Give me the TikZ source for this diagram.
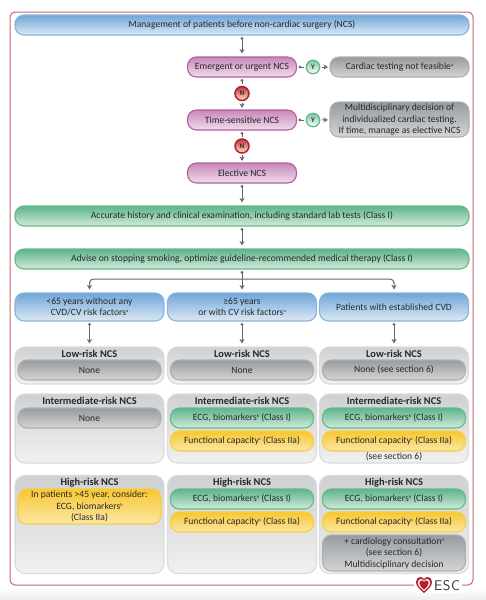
\documentclass[tikz,border=0pt]{standalone}
\usepackage{fontspec}
\setmainfont{Carlito}
\usepackage{xcolor}
\usetikzlibrary{arrows.meta}

\definecolor{frameRed}{HTML}{C9686E}
\definecolor{inkGrey}{HTML}{26292C}
\definecolor{lineGrey}{HTML}{64676A}
\definecolor{escRed}{HTML}{B3202E}
\definecolor{blueEdge}{HTML}{84B5DE}
\definecolor{blueTop}{HTML}{70A6D8}
\definecolor{blueEnd}{HTML}{DCE9F4}
\definecolor{purpleEdge}{HTML}{B2609F}
\definecolor{purpleTop}{HTML}{C888BA}
\definecolor{purpleEnd}{HTML}{F2DDEC}
\definecolor{greenEdge}{HTML}{64BA88}
\definecolor{greenTop}{HTML}{5DB58B}
\definecolor{greenEnd}{HTML}{D3EADB}
\definecolor{greyEdge}{HTML}{AEB0B2}
\definecolor{greyTop}{HTML}{979B9F}
\definecolor{greyEnd}{HTML}{D4D5D6}
\definecolor{yellowEdge}{HTML}{F7CF3E}
\definecolor{yellowTop}{HTML}{F8C72F}
\definecolor{yellowEnd}{HTML}{FBE7A6}
\definecolor{panelEdge}{HTML}{DADBDC}
\definecolor{panelTop}{HTML}{CFD0D1}
\definecolor{panelEnd}{HTML}{F1F1F1}

\newcommand{\marker}[1]{\raisebox{3pt}{\fontsize{4.5}{4.5}\selectfont #1}}

\tikzset{
    boxbase/.style={rounded corners=9pt, line width=1.1pt, inner sep=0pt, align=center,
        text=inkGrey, font=\fontsize{9.6}{11.5}\selectfont},
    bluebox/.style={boxbase, draw=blueEdge, top color=blueTop, bottom color=blueEnd},
    purplebox/.style={boxbase, draw=purpleEdge, top color=purpleTop, bottom color=purpleEnd},
    greenbox/.style={boxbase, draw=greenEdge, top color=greenTop, bottom color=greenEnd},
    greybox/.style={boxbase, draw=greyEdge, top color=greyTop, bottom color=greyEnd},
    yellowbox/.style={boxbase, draw=yellowEdge, top color=yellowTop, bottom color=yellowEnd},
    panelbox/.style={boxbase, rounded corners=10pt, draw=panelEdge, top color=panelTop, bottom color=panelEnd},
    wide/.style={minimum width=454pt, minimum height=20pt},
    mid/.style={minimum width=109pt, minimum height=20pt},
    column/.style={minimum width=143pt, minimum height=20pt},
    titletext/.style={inner sep=0pt, text=inkGrey, font=\fontsize{10.4}{12}\selectfont\bfseries},
    plaintext/.style={inner sep=0pt, text=inkGrey, font=\fontsize{9.6}{11.5}\selectfont},
    yesdot/.style={circle, draw=greenEdge, line width=1.3pt, top color=greenTop!80, bottom color=white,
        minimum size=13.5pt, inner sep=0pt, text=inkGrey, font=\fontsize{7}{7}\selectfont\bfseries},
    nodot/.style={circle, draw=escRed, line width=1.5pt, top color=escRed!90, bottom color=orange!25,
        minimum size=14pt, inner sep=0pt, text=inkGrey, font=\fontsize{7}{7}\selectfont\bfseries},
    flowline/.style={draw=lineGrey, line width=1pt, shorten <=1.5pt, shorten >=1.5pt},
    flowarrow/.style={flowline, {Circle[length=2.6pt]}-{Stealth[length=4.5pt,width=5pt]}, shorten >=3pt},
    flowstart/.style={flowline, {Circle[length=2.6pt]}-},
    flowend/.style={flowline, -{Stealth[length=4.5pt,width=5pt]}}
}

\begin{document}
\begin{tikzpicture}[x=1pt, y=-1pt]
    \useasboundingbox (0,0) rectangle (486,600);
    \fill[white] (0,0) rectangle (486,600);
    \shade[top color=white, bottom color=black!7] (0,587) rectangle (486,600);

    % Outer frame
    \draw[frameRed, line width=1pt, rounded corners=5pt] (10,12) rectangle (473,585);

    % Top of the flow
    \node[bluebox, wide] (nManage) at (242,25) {Management of patients before non-cardiac surgery (NCS)};

    \node[purplebox, mid] (nEmergent) at (242,67) {Emergent or urgent NCS};
    \node[yesdot] (nYesA) at (313,67) {Y};
    \node[greybox, minimum width=139pt, minimum height=20pt] (nNoTest) at (399.5,67) {Cardiac testing not feasible\marker{a}};
    \node[nodot] (nNoA) at (242,93.5) {N};

    \node[purplebox, mid] (nSensitive) at (242,120) {Time-sensitive NCS};
    \node[yesdot] (nYesB) at (313,120) {Y};
    \node[greybox, minimum width=139pt, minimum height=35pt] (nMulti) at (399.5,119.5) {Multidisciplinary decision of\\individualized cardiac testing.\\If time, manage as elective NCS};
    \node[nodot] (nNoB) at (242,146) {N};

    \node[purplebox, mid] (nElective) at (242,173) {Elective NCS};

    \node[greenbox, wide] (nHistory) at (242,216) {Accurate history and clinical examination, including standard lab tests (Class I)};
    \node[greenbox, wide] (nAdvise) at (242,259) {Advise on stopping smoking, optimize guideline-recommended medical therapy (Class I)};

    % Patient groups
    \node[bluebox, minimum width=149pt, minimum height=28pt] (nYoung) at (89.5,307) {<65 years without any\\CVD/CV risk factors\marker{a}};
    \node[bluebox, minimum width=149pt, minimum height=28pt] (nOlder) at (242,307) {≥65 years\\or with CV risk factors\marker{a}};
    \node[bluebox, minimum width=149pt, minimum height=28pt] (nEstablished) at (394,307) {Patients with established CVD};

    % Low-risk row
    \node[panelbox, minimum width=149pt, minimum height=37pt] (nLowA) at (89.5,365.5) {};
    \node[panelbox, minimum width=149pt, minimum height=37pt] (nLowB) at (242,365.5) {};
    \node[panelbox, minimum width=149pt, minimum height=37pt] (nLowC) at (394,365.5) {};
    \node[titletext] (tLowA) at (89.5,354) {Low-risk NCS};
    \node[titletext] (tLowB) at (242,354) {Low-risk NCS};
    \node[titletext] (tLowC) at (394,354) {Low-risk NCS};
    \node[greybox, column] (nNoneA) at (89.5,370) {None};
    \node[greybox, column] (nNoneB) at (242,370) {None};
    \node[greybox, column] (nNoneC) at (394,370) {None (see section 6)};

    % Intermediate-risk row
    \node[panelbox, minimum width=149pt, minimum height=69pt] (nMidA) at (89.5,428.5) {};
    \node[panelbox, minimum width=149pt, minimum height=69pt] (nMidB) at (242,428.5) {};
    \node[panelbox, minimum width=149pt, minimum height=69pt] (nMidC) at (394,428.5) {};
    \node[titletext] (tMidA) at (89.5,401) {Intermediate-risk NCS};
    \node[titletext] (tMidB) at (242,401) {Intermediate-risk NCS};
    \node[titletext] (tMidC) at (394,401) {Intermediate-risk NCS};
    \node[greybox, column] (nMidNone) at (89.5,418) {None};
    \node[greenbox, column] (nEcgB) at (242,418) {ECG, biomarkers\marker{b} (Class I)};
    \node[yellowbox, column] (nFuncB) at (242,441) {Functional capacity\marker{c} (Class IIa)};
    \node[greenbox, column] (nEcgC) at (394,418) {ECG, biomarkers\marker{b} (Class I)};
    \node[yellowbox, column] (nFuncC) at (394,441) {Functional capacity\marker{c} (Class IIa)};
    \node[plaintext] (tSeeC) at (394,456.5) {(see section 6)};

    % High-risk row
    \node[panelbox, minimum width=149pt, minimum height=98pt] (nHighA) at (89.5,524.5) {};
    \node[panelbox, minimum width=149pt, minimum height=98pt] (nHighB) at (242,524.5) {};
    \node[panelbox, minimum width=149pt, minimum height=98pt] (nHighC) at (394,524.5) {};
    \node[titletext] (tHighA) at (89.5,483) {High-risk NCS};
    \node[titletext] (tHighB) at (242,483) {High-risk NCS};
    \node[titletext] (tHighC) at (394,483) {High-risk NCS};
    \node[yellowbox, minimum width=143pt, minimum height=35pt] (nConsider) at (89.5,506.5) {In patients >45 year, consider:\\ECG, biomarkers\marker{b}\\(Class IIa)};
    \node[greenbox, column] (nHighEcgB) at (242,499) {ECG, biomarkers\marker{b} (Class I)};
    \node[yellowbox, column] (nHighFuncB) at (242,522) {Functional capacity\marker{c} (Class IIa)};
    \node[greenbox, column] (nHighEcgC) at (394,499) {ECG, biomarkers\marker{b} (Class I)};
    \node[yellowbox, column] (nHighFuncC) at (394,522) {Functional capacity\marker{c} (Class IIa)};
    \node[greybox, minimum width=143pt, minimum height=36pt] (nCardio) at (394,553) {+ cardiology consultation\marker{d}\\(see section 6)\\Multidisciplinary decision};

    % Connectors
    \draw[flowarrow] (nManage) -- (nEmergent);
    \draw[flowstart] (nEmergent) -- (nNoA);
    \draw[flowend] (nNoA) -- (nSensitive);
    \draw[flowstart] (nSensitive) -- (nNoB);
    \draw[flowend] (nNoB) -- (nElective);
    \draw[flowstart] (nEmergent) -- (nYesA);
    \draw[flowend] (nYesA) -- (nNoTest);
    \draw[flowstart] (nSensitive) -- (nYesB);
    \draw[flowend] (nYesB) -- (nMulti);
    \draw[flowarrow] (nElective) -- (nHistory);
    \draw[flowarrow] (nHistory) -- (nAdvise);

    % Branch to the three groups
    \coordinate (cBranch) at (242,279);
    \draw[flowarrow] (nAdvise) -- (nOlder);
    \draw[flowline, shorten <=0pt, -{Stealth[length=4.5pt,width=5pt]}, shorten >=3pt, rounded corners=4pt] (cBranch) -| (nYoung.north);
    \draw[flowline, shorten <=0pt, -{Stealth[length=4.5pt,width=5pt]}, shorten >=3pt, rounded corners=4pt] (cBranch) -| (nEstablished.north);

    \draw[flowarrow] (nYoung) -- (nLowA);
    \draw[flowarrow] (nOlder) -- (nLowB);
    \draw[flowarrow] (nEstablished) -- (nLowC);

    % ESC mark
    \node[fill=white, inner sep=0pt, minimum width=48pt, minimum height=15pt] (nLogo) at (438,585) {};
    \foreach \s/\c in {1/escRed, 0.76/white, 0.58/escRed} {
        \begin{scope}[shift={(424,585)}, scale=\s]
            \fill[\c] (0,8) .. controls (-3,5) and (-8,2) .. (-8,-3)
                .. controls (-8,-6) and (-6,-8) .. (-3.8,-8)
                .. controls (-2,-8) and (-0.6,-7) .. (0,-5.8)
                .. controls (0.6,-7) and (2,-8) .. (3.8,-8)
                .. controls (6,-8) and (8,-6) .. (8,-3)
                .. controls (8,2) and (3,5) .. cycle;
        \end{scope}
    }
    \node[inner sep=0pt, text=black!80, font=\fontsize{14}{14}\selectfont\sffamily] (tLogo) at (447,585.5) {E\kern0.5pt S\kern0.5pt C};
\end{tikzpicture}
\end{document}
